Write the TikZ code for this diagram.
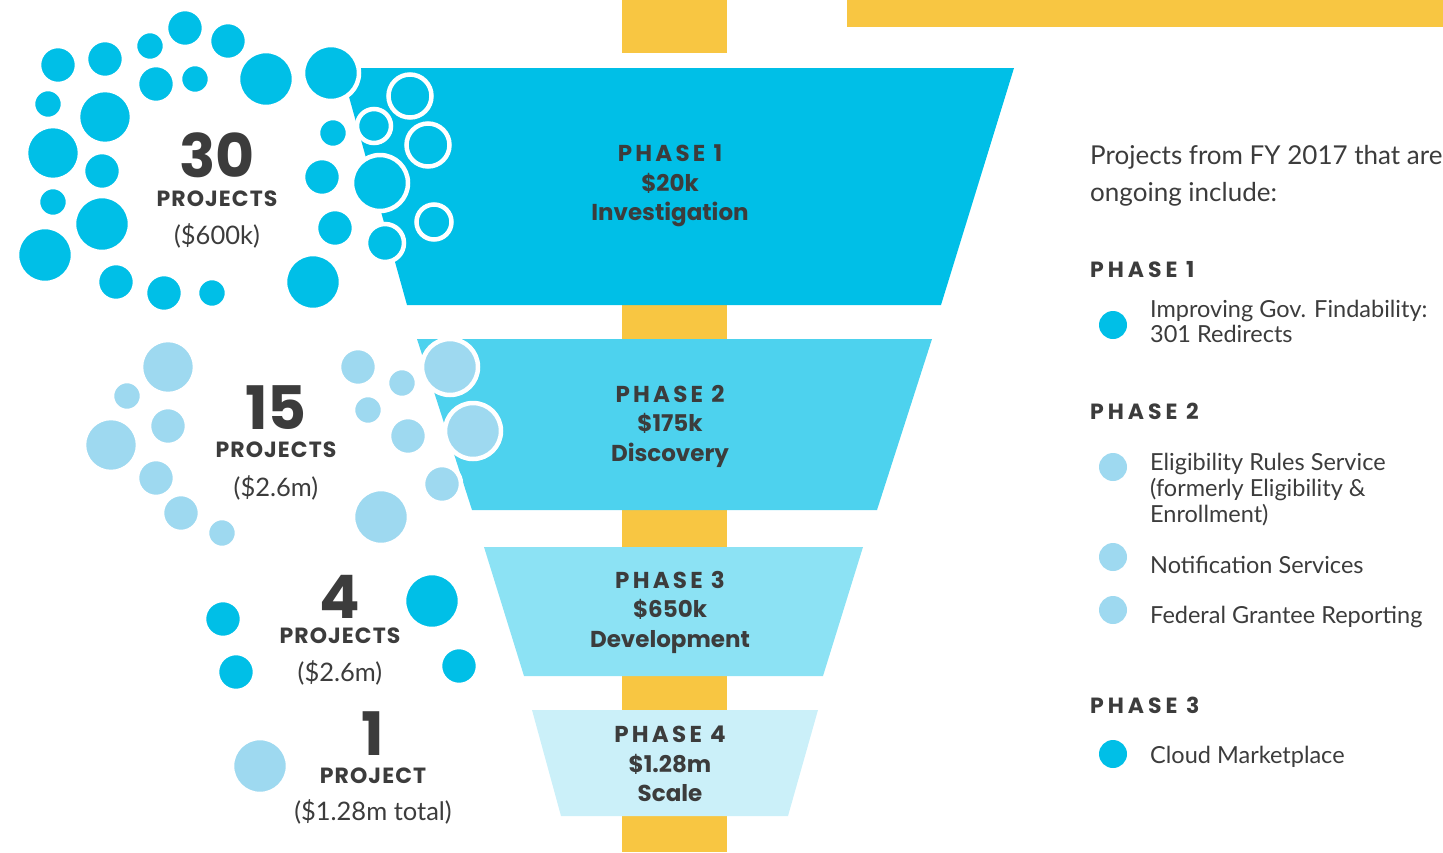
\documentclass[tikz,border=0pt]{standalone}
\usepackage{fontspec}
\setmainfont{Lato}
\newfontfamily\popsp[LetterSpace=14]{Poppins}
\newfontfamily\popspr[LetterSpace=18]{Poppins}
\newfontfamily\popsl[LetterSpace=5]{Poppins}
\newfontfamily\pop{Poppins}
\definecolor{cyanA}{HTML}{00BFE7}
\definecolor{cyanB}{HTML}{4DD2EE}
\definecolor{cyanC}{HTML}{8CE2F4}
\definecolor{cyanD}{HTML}{CBF0F9}
\definecolor{lightB}{HTML}{9ED9F0}
\definecolor{yel}{HTML}{F8C642}
\definecolor{txt}{HTML}{3C3C3C}
\tikzset{
  bub/.style={draw=white, line width=4.5pt},
  phasetxt/.style={text=txt, align=center, inner sep=0pt, font=\pop\bfseries\fontsize{23}{29.5}\selectfont},
  bignum/.style={text=txt, inner sep=0pt, text height=42pt, text depth=0pt, font=\pop\bfseries\fontsize{60}{62}\selectfont},
  projlbl/.style={text=txt, inner sep=0pt, text height=15pt, text depth=0pt, font=\popsl\bfseries\fontsize{22}{24}\selectfont},
  amtlbl/.style={text=txt, inner sep=0pt, font=\fontsize{25.5}{28}\selectfont},
  rtxt/.style={text=txt, inner sep=0pt, anchor=base west, font=\fontsize{23.5}{26}\selectfont},
  rhead/.style={text=txt, inner sep=0pt, anchor=base west, font=\popspr\bfseries\fontsize{22}{24}\selectfont},
}
\begin{document}
\begin{tikzpicture}[x=1pt,y=-1pt]
\useasboundingbox (0,0) rectangle (1443,852);
% yellow bars
\fill[yel] (622,0) rectangle (727,53);
\fill[yel] (622,68) rectangle (727,852);
\fill[yel] (847,0) rectangle (1443,27);
% funnels
\fill[cyanA] (341,68) -- (1014,68) -- (941,305) -- (407,305) -- cycle;
\fill[cyanB] (417,339) -- (932,339) -- (877,510) -- (472,510) -- cycle;
\fill[cyanC] (484,547) -- (863,547) -- (823,676) -- (524,676) -- cycle;
\fill[cyanD] (532,710) -- (818,710) -- (788,816) -- (561,816) -- cycle;
% 30 bubbles
\foreach \x/\y/\r in {58/65/19,105/59/19,150/46/15,185/28/19,228/41/19,156/84/19,195/79/15,266/79/28,331/73/28,
  48/104/15,105/117/27,53/153/27,102/171/19,53/202/15,102/224/28,45/255/28,116/282/19,164/293/19,212/293/15,
  333/133/15,322/177/19,335/228/19,313/282/28,380/183/28,385/243/19,374/126/17,410/96/21.5,428/145/21.5,434/222/17.5}
  \filldraw[bub, fill=cyanA] (\x,\y) circle[radius=\r pt];
% 15 bubbles
\foreach \x/\y/\r in {168/367/27,127/396/15,168/426/19,111/445/27,156/478/19,181/513/19,222/533/15,
  358/367/19,402/383/15,368/410/15,408/436/19,450/367/28,473/431/28,442/484/19,381/517/28}
  \filldraw[bub, fill=lightB] (\x,\y) circle[radius=\r pt];
% 4 bubbles
\foreach \x/\y/\r in {223/619/19,236/672/19,432/601/28,459/666/19}
  \filldraw[bub, fill=cyanA] (\x,\y) circle[radius=\r pt];
% 1 bubble
\filldraw[bub, fill=lightB] (260,766) circle[radius=28pt];
% left texts
\node[bignum] (n30) at (217,156) {30};
\node[projlbl] (p30) at (217,199) {PROJECTS};
\node[amtlbl] (a30) at (217,236) {(\$600k)};
\node[bignum] (n15) at (276,408) {15};
\node[projlbl] (p15) at (276,450) {PROJECTS};
\node[amtlbl] (a15) at (276,488) {(\$2.6m)};
\node[bignum] (n4) at (340,597) {4};
\node[projlbl] (p4) at (340,636) {PROJECTS};
\node[amtlbl] (a4) at (340,673) {(\$2.6m)};
\node[bignum] (n1) at (373,734) {1};
\node[projlbl] (p1) at (373,776) {PROJECT};
\node[amtlbl] (a1) at (373,812) {(\$1.28m total)};
% funnel texts
\node[phasetxt] (f1) at (670,186) {{\popsp\bfseries PHASE 1}\\\$20k\\Investigation};
\node[phasetxt] (f2) at (670,426) {{\popsp\bfseries PHASE 2}\\\$175k\\Discovery};
\node[phasetxt] (f3) at (670,612) {{\popsp\bfseries PHASE 3}\\\$650k\\Development};
\node[phasetxt] (f4) at (670,764) {{\popsp\bfseries PHASE 4}\\\$1.28m\\Scale};
% right panel
\node[rtxt, font=\fontsize{26}{29}\selectfont] (intro1) at (1090,164) {Projects from FY 2017 that are};
\node[rtxt, font=\fontsize{26}{29}\selectfont] (intro2) at (1090,201) {ongoing include:};
\node[rhead] (h1) at (1090,277) {PHASE 1};
\fill[cyanA] (1113,325) circle[radius=14pt];
\node[rtxt] (i1a) at (1150,317) {Improving Gov. Findability:};
\node[rtxt] (i1b) at (1150,342) {301 Redirects};
\node[rhead] (h2) at (1090,419) {PHASE 2};
\fill[lightB] (1113,467) circle[radius=14pt];
\node[rtxt] (i2a) at (1150,470) {Eligibility Rules Service};
\node[rtxt] (i2b) at (1150,496) {(formerly Eligibility \&};
\node[rtxt] (i2c) at (1150,522) {Enrollment)};
\fill[lightB] (1113,557) circle[radius=14pt];
\node[rtxt] (i3) at (1150,573) {Notification Services};
\fill[lightB] (1113,610) circle[radius=14pt];
\node[rtxt] (i4) at (1150,623) {Federal Grantee Reporting};
\node[rhead] (h3) at (1090,713) {PHASE 3};
\fill[cyanA] (1113,754) circle[radius=14pt];
\node[rtxt] (i5) at (1150,763) {Cloud Marketplace};
\end{tikzpicture}
\end{document}
